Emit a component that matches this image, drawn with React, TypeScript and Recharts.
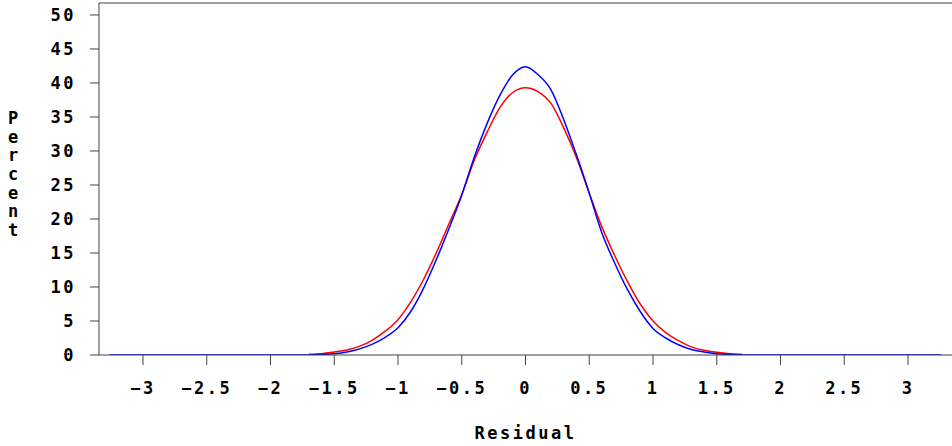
import React from "react";
import { LineChart, Line, XAxis, YAxis, ReferenceLine } from "recharts";

// residual grid (x) and the two curves
const residual = [
  -3.26, -1.7, -1.6, -1.5, -1.4, -1.3, -1.2, -1.1, -1.0, -0.9, -0.8, -0.7, -0.6,
  -0.5, -0.4, -0.3, -0.2, -0.1, 0, 0.1, 0.2, 0.3, 0.4, 0.5, 0.6, 0.7, 0.8, 0.9,
  1.0, 1.1, 1.2, 1.3, 1.4, 1.5, 1.6, 1.7, 3.26,
];
const kernel = [
  0, 0, 0.1, 0.2, 0.45, 0.9, 1.6, 2.6, 4.0, 6.4, 9.8, 14.0, 18.6, 23.5, 29.2,
  34.1, 38.2, 41.2, 42.4, 41.2, 39.0, 34.6, 29.4, 23.8, 17.9, 13.5, 9.6, 6.4,
  3.9, 2.5, 1.5, 0.8, 0.45, 0.2, 0.1, 0, 0,
];
const normal = [
  null, 0.1, 0.2, 0.45, 0.75, 1.3, 2.2, 3.5, 5.2, 7.8, 11.1, 15.0, 19.3, 23.6,
  28.7, 32.8, 36.4, 38.6, 39.3, 38.7, 37.0, 33.4, 29.0, 23.8, 18.8, 14.6, 10.8,
  7.5, 5.0, 3.3, 2.1, 1.2, 0.7, 0.4, 0.2, 0.1, null,
];
const xTicks = [-3, -2.5, -2, -1.5, -1, -0.5, 0, 0.5, 1, 1.5, 2, 2.5, 3];
const yTicks = [0, 5, 10, 15, 20, 25, 30, 35, 40, 45, 50];

const data = residual.map((r, i) => ({ r, kernel: kernel[i], normal: normal[i] }));

const AXIS = "#404040";
const FONT = "'DejaVu Sans Mono', monospace";
const Y_MAX = 51.76;

const tickStyle = { fontFamily: FONT, fontSize: 17, fontWeight: "bold", fill: "#000", letterSpacing: 2.5 };

function VerticalLabel(props: any) {
  const vb = props.viewBox || {};
  const letters = "Percent".split("");
  const cy = vb.y + vb.height / 2 - 5;
  const step = 18.6;
  const start = cy - ((letters.length - 1) * step) / 2;
  return (
    <text x={13} textAnchor="middle" style={{ fontFamily: FONT, fontSize: 17, fontWeight: "bold" }} fill="#000">
      {letters.map((c, i) => (
        <tspan key={i} x={13} y={start + i * step} dy="0.35em">{c}</tspan>
      ))}
    </text>
  );
}

const fmtMinus = (v: number) => String(v).replace("-", "\u2212");

export default function App() {
  return (
    <div style={{ position: "absolute", left: 0, top: 0, background: "#fff" }}>
      <LineChart width={952} height={446} data={data} margin={{ top: 3, right: 0, bottom: 0, left: 0 }}>
        <XAxis
          dataKey="r"
          type="number"
          domain={[-3.345, 3.345]}
          ticks={xTicks}
          allowDataOverflow
          height={91}
          stroke={AXIS}
          tickSize={10}
          tickMargin={17}
          tick={tickStyle}
          tickFormatter={fmtMinus}
          label={{ value: "Residual", position: "insideBottom", offset: 7, style: { fontFamily: FONT, fontSize: 17, fontWeight: "bold", fill: "#000", letterSpacing: 2.5 } }}
        />
        <YAxis
          type="number"
          domain={[0, Y_MAX]}
          ticks={yTicks}
          allowDataOverflow
          width={99}
          stroke={AXIS}
          tickSize={9}
          tickMargin={14}
          tick={tickStyle}
          label={<VerticalLabel />}
        />
        <ReferenceLine y={Y_MAX} stroke={AXIS} />
        <Line type="monotone" dataKey="normal" stroke="#ff0000" strokeWidth={1.5} dot={false} isAnimationActive={false} />
        <Line type="monotone" dataKey="kernel" stroke="#0000ff" strokeWidth={1.5} dot={false} isAnimationActive={false} />
      </LineChart>
    </div>
  );
}
